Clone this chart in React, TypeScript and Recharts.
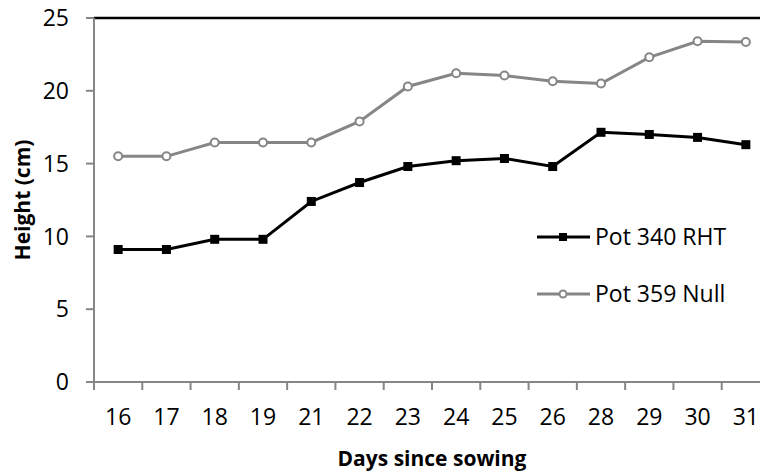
import { LineChart, Line, XAxis, YAxis, ReferenceLine, Legend } from "recharts"

const days = ["16", "17", "18", "19", "21", "22", "23", "24", "25", "26", "28", "29", "30", "31"]
const pot340 = [9.1, 9.1, 9.8, 9.8, 12.4, 13.7, 14.8, 15.2, 15.35, 14.8, 17.15, 17.0, 16.8, 16.3]
const pot359 = [15.5, 15.5, 16.45, 16.45, 16.45, 17.9, 20.3, 21.2, 21.05, 20.65, 20.5, 22.3, 23.4, 23.35]
const yTicks = [0, 5, 10, 15, 20, 25]

const data = days.map((day, i) => ({ day, pot340: pot340[i], pot359: pot359[i] }))

const GRAY = "#868686"
const FONT = "'Open Sans', sans-serif"
const CHART_W = 800
const CHART_H = 472
const MARGIN = { top: 18, right: 30, left: 0, bottom: 0 }
const Y_AXIS_W = 94
const X_AXIS_H = 90
const PLOT_BOTTOM = CHART_H - X_AXIS_H
const HALF_BAND = (CHART_W - MARGIN.right - Y_AXIS_W) / days.length / 2

const SquareDot = (props: any) => {
  const { cx, cy } = props
  if (cx == null || cy == null) return null
  return <rect x={cx - 4.5} y={cy - 4.5} width={9} height={9} fill="#000" />
}

const CircleDot = (props: any) => {
  const { cx, cy } = props
  if (cx == null || cy == null) return null
  return <circle cx={cx} cy={cy} r={4} fill="#fff" stroke={GRAY} strokeWidth={2} />
}

const DayTick = (props: any) => {
  const { x, payload, index } = props
  const last = index === days.length - 1
  return (
    <g>
      <line x1={x - HALF_BAND} x2={x - HALF_BAND} y1={PLOT_BOTTOM} y2={PLOT_BOTTOM + 8} stroke={GRAY} strokeWidth={2} />
      {last && (
        <line x1={x + HALF_BAND} x2={x + HALF_BAND} y1={PLOT_BOTTOM} y2={PLOT_BOTTOM + 8} stroke={GRAY} strokeWidth={2} />
      )}
      <text x={x} y={PLOT_BOTTOM + 43} textAnchor="middle" fontSize={23} fill="#000">
        {payload.value}
      </text>
    </g>
  )
}

const legendItems = [
  { label: "Pot 340 RHT", color: "#000", marker: "square" },
  { label: "Pot 359 Null", color: GRAY, marker: "circle" },
]

const LegendContent = () => (
  <div>
    {legendItems.map((item) => (
      <div key={item.label} style={{ display: "flex", alignItems: "center", height: 57 }}>
        <svg width={58} height={20}>
          <line x1={0} x2={53} y1={10} y2={10} stroke={item.color} strokeWidth={3} />
          {item.marker === "square" ? (
            <rect x={22} y={6} width={8} height={8} fill="#000" />
          ) : (
            <circle cx={26} cy={10} r={3.5} fill="#fff" stroke={GRAY} strokeWidth={2} />
          )}
        </svg>
        <span style={{ fontSize: 23, color: "#000", lineHeight: 1 }}>{item.label}</span>
      </div>
    ))}
  </div>
)

export default function App() {
  const midY = MARGIN.top + (PLOT_BOTTOM - MARGIN.top) / 2
  return (
    <div
      style={{
        position: "absolute",
        left: 0,
        top: 0,
        width: 760,
        height: 472,
        overflow: "hidden",
        background: "#fff",
        fontFamily: FONT,
      }}
    >
      <LineChart width={CHART_W} height={CHART_H} data={data} margin={MARGIN}>
        <XAxis
          dataKey="day"
          height={X_AXIS_H}
          padding={{ left: HALF_BAND, right: HALF_BAND }}
          stroke={GRAY}
          strokeWidth={2}
          tickLine={false}
          tick={<DayTick />}
          interval={0}
          label={{
            value: "Days since sowing",
            position: "insideBottom",
            offset: 6,
            fill: "#000",
            fontSize: 21,
            fontWeight: 700,
          }}
        />
        <YAxis
          width={Y_AXIS_W}
          domain={[0, 25]}
          ticks={yTicks}
          stroke={GRAY}
          strokeWidth={2}
          tickSize={8}
          tickMargin={17}
          tick={{ fill: "#000", fontSize: 23 }}
          label={() => (
            <text
              x={22}
              y={midY}
              transform={`rotate(-90 22 ${midY})`}
              textAnchor="middle"
              dominantBaseline="central"
              fontSize={21}
              fontWeight={700}
              fill="#000"
            >
              Height (cm)
            </text>
          )}
        />
        <ReferenceLine y={25} stroke="#000" strokeWidth={2.5} />
        <Legend
          layout="vertical"
          verticalAlign="middle"
          align="center"
          content={<LegendContent />}
          wrapperStyle={{ position: "absolute", left: 537, top: 208, width: 230 }}
        />
        <Line
          dataKey="pot340"
          name="Pot 340 RHT"
          stroke="#000"
          strokeWidth={3}
          dot={<SquareDot />}
          activeDot={false}
          isAnimationActive={false}
        />
        <Line
          dataKey="pot359"
          name="Pot 359 Null"
          stroke={GRAY}
          strokeWidth={3}
          dot={<CircleDot />}
          activeDot={false}
          isAnimationActive={false}
        />
      </LineChart>
    </div>
  )
}
